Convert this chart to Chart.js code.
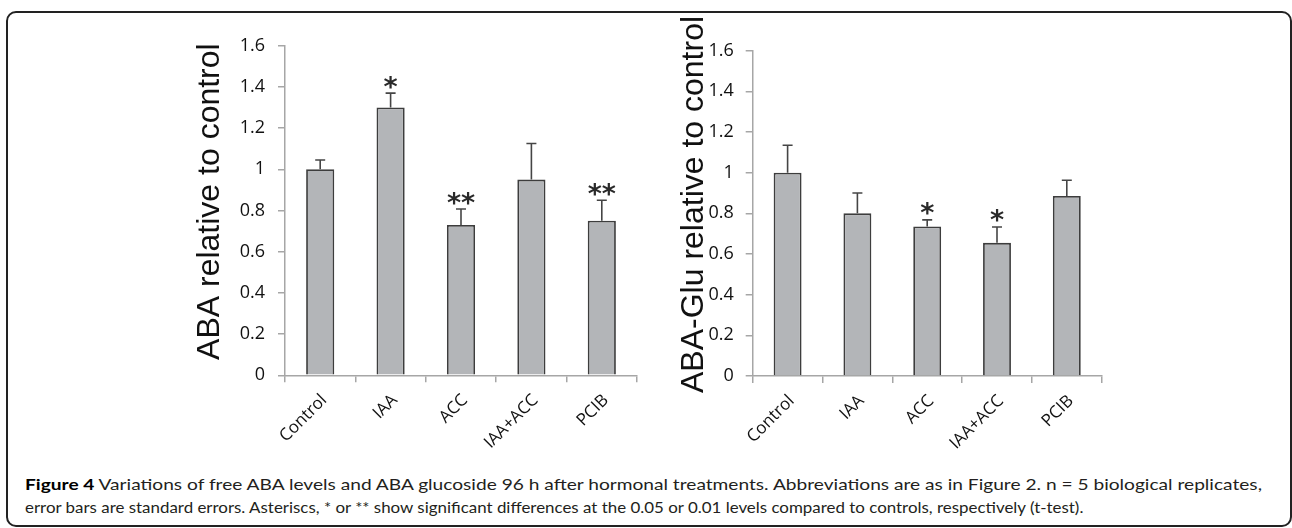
<!DOCTYPE html>
<html><head><meta charset="utf-8">
<script src="https://cdn.jsdelivr.net/npm/chart.js@4.4.0/dist/chart.umd.min.js"></script>
<style>
html,body{margin:0;padding:0;background:#fff;width:1292px;height:528px;overflow:hidden;position:relative}
#frame{position:absolute;left:6px;top:11px;width:1286px;height:516px;border:2px solid #222;border-radius:10px;box-sizing:border-box}
canvas{position:absolute;top:0}
#c1{left:150px}
#c2{left:650px}
.cap{position:absolute;left:25px;white-space:nowrap;font-family:Lato,"Open Sans",sans-serif;font-size:16px;color:#231f20;transform-origin:0 50%;line-height:20px}
.cap b{color:#000}
</style></head>
<body>
<div id="frame"></div>
<canvas id="c1" width="500" height="460"></canvas>
<canvas id="c2" width="470" height="460"></canvas>
<div class="cap" id="l1" data-w="1237" style="top:474px"><b>Figure 4</b> Variations of free ABA levels and ABA glucoside 96 h after hormonal treatments. Abbreviations are as in Figure 2. n = 5 biological replicates,</div>
<div class="cap" id="l2" data-w="1058" style="top:497px">error bars are standard errors. Asteriscs, * or ** show significant differences at the 0.05 or 0.01 levels compared to controls, respectively (t-test).</div>
<script>
const categories = ['Control', 'IAA', 'ACC', 'IAA+ACC', 'PCIB'];
const abaValues = [1.0, 1.3, 0.73, 0.95, 0.75];
const abaErrors = [0.045, 0.07, 0.077, 0.175, 0.10];
const abaSignif = ['', '*', '**', '', '**'];
const gluValues = [1.0, 0.80, 0.735, 0.655, 0.885];
const gluErrors = [0.135, 0.10, 0.033, 0.078, 0.078];
const gluSignif = ['', '', '*', '*', ''];
const yMin = 0, yMax = 1.6, yStep = 0.2;

const errorPlugin = {
  id: 'errbars',
  afterDatasetsDraw(chart, args, opts) {
    const ctx = chart.ctx;
    const ys = chart.scales.y;
    const meta = chart.getDatasetMeta(0);
    ctx.save();
    meta.data.forEach((bar, i) => {
      const v = opts.values[i], e = opts.errors[i];
      const x = bar.x;
      const yb = ys.getPixelForValue(v);
      const yt = ys.getPixelForValue(v + e);
      ctx.strokeStyle = '#454545';
      ctx.lineWidth = 1.6;
      ctx.beginPath();
      ctx.moveTo(x, yb); ctx.lineTo(x, yt);
      ctx.moveTo(x - 5, yt); ctx.lineTo(x + 5, yt);
      ctx.stroke();
      const s = opts.signif[i];
      if (s) {
        ctx.font = 'bold 27px "DejaVu Sans"';
        ctx.fillStyle = '#2a2a2a';
        ctx.textAlign = 'center';
        ctx.textBaseline = 'alphabetic';
        const m = ctx.measureText(s);
        const asc = m.actualBoundingBoxAscent, desc = m.actualBoundingBoxDescent;
        const cy = yt - 11;
        ctx.fillText(s, x, cy + (asc - desc) / 2);
      }
    });
    ctx.restore();
  }
};

function makeChart(id, values, errors, signif, title, cfg) {
  return new Chart(document.getElementById(id), {
    type: 'bar',
    data: {
      labels: categories,
      datasets: [{
        data: values,
        backgroundColor: '#b3b5b8',
        borderColor: '#3d3d3d',
        borderWidth: 1.8,
        barPercentage: 0.8,
        categoryPercentage: 0.5
      }]
    },
    options: {
      responsive: false,
      animation: false,
      devicePixelRatio: 1,
      layout: { padding: { top: cfg.padTop, right: cfg.padRight, bottom: 0, left: 0 } },
      plugins: {
        legend: { display: false },
        tooltip: { enabled: false },
        errbars: { values: values, errors: errors, signif: signif }
      },
      scales: {
        x: {
          grid: { display: true, drawOnChartArea: false, drawTicks: true, tickLength: 7, color: '#a6a6a6', lineWidth: 1.5, offset: true },
          border: { display: true, color: '#a6a6a6', width: 1.5 },
          ticks: { minRotation: 45, maxRotation: 45, autoSkip: false, padding: 8, labelOffset: 4, color: '#111', font: { family: 'Open Sans', size: 17 } },
          afterFit(s) { s.height = cfg.xHeight; }
        },
        y: {
          min: yMin, max: yMax,
          grid: { display: true, drawOnChartArea: false, drawTicks: true, tickLength: 7, color: '#a6a6a6', lineWidth: 1.5 },
          border: { display: true, color: '#a6a6a6', width: 1.5 },
          ticks: { stepSize: yStep, padding: cfg.tickPad, color: '#111', font: { family: 'Open Sans', size: 18 },
                   callback: v => String(+v.toFixed(1)) },
          title: { display: true, text: title, color: '#111', font: { family: 'Liberation Sans', size: 32, lineHeight: 1 }, padding: { top: cfg.titlePad, bottom: 0 } },
          afterFit(s) { s.width = cfg.yWidth; }
        }
      }
    },
    plugins: [errorPlugin]
  });
}

makeChart('c1', abaValues, abaErrors, abaSignif, '  ABA relative to control',
  { padTop: 45.7, padRight: 13, xHeight: 84.7, yWidth: 135, tickPad: 13, titlePad: 44 });
makeChart('c2', gluValues, gluErrors, gluSignif, '  ABA-Glu relative to control',
  { padTop: 50.7, padRight: 18.3, xHeight: 84, yWidth: 102.7, tickPad: 12, titlePad: 28 });

document.querySelectorAll('.cap').forEach(el => {
  const w = el.scrollWidth;
  el.style.transform = 'scaleX(' + (parseFloat(el.dataset.w) / w) + ')';
});
</script>
</body></html>
